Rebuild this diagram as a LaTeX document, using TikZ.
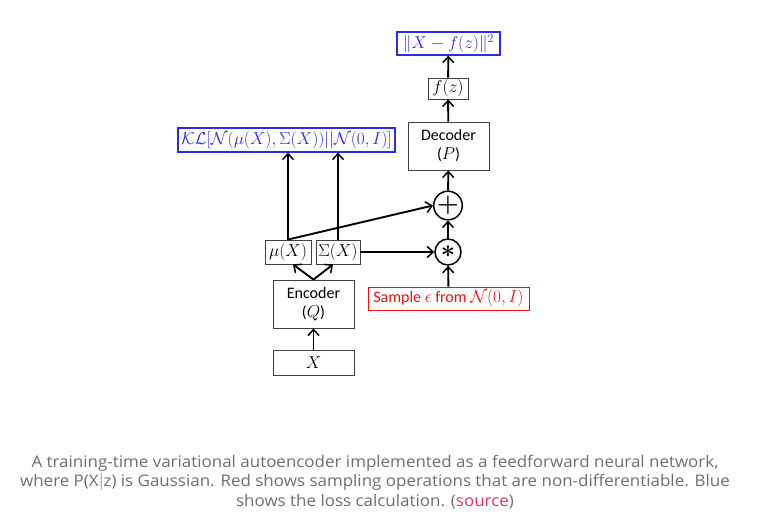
\documentclass[tikz,border=0pt]{standalone}
\usepackage{amsmath,amssymb}
\usepackage{bm}
\usepackage{fontspec}
\setsansfont{Carlito}
\newfontfamily\capfont[FakeStretch=1.06]{Open Sans}
\usetikzlibrary{arrows.meta,positioning}
\definecolor{lossb}{HTML}{2B2BEE}
\definecolor{sampr}{HTML}{F01010}
\definecolor{capg}{HTML}{6E6E6E}
\definecolor{srcr}{HTML}{E8336A}
\begin{document}
\begin{tikzpicture}[x=1pt,y=-1pt,font=\sffamily\fontsize{16}{19}\selectfont,
  >={Straight Barb[length=6pt,width=11pt,line width=1.5pt]},
  box/.style={draw=black!75,line width=0.9pt,inner sep=1pt,align=center},
  mth/.style={font=\fontsize{18.5}{20}\selectfont},
  loss/.style={draw=lossb,line width=1.1pt,inner sep=1pt,text=lossb},
  samp/.style={draw=sampr,line width=0.9pt,inner sep=1pt,text=sampr},
  op/.style={circle,draw=black,line width=1.5pt,minimum size=26pt,inner sep=0pt},
  arr/.style={->,line width=1.9pt}]
  \useasboundingbox (0,0) rectangle (772,522);
  % loss side
  \node[loss,mth,minimum width=103pt,minimum height=23pt] (loss) at (448.5,43.5) {$\|X-f(z)\|^2$};
  \node[box,mth,minimum width=40pt,minimum height=21pt] (fz) at (448,88.5) {$f(z)$};
  \node[box,minimum width=81pt,minimum height=48pt] (dec) at (448.5,146) {Decoder\\($P$)};
  \node[loss,mth,minimum width=217pt,minimum height=24pt] (kl) at (286.5,140) {$\mathcal{KL}[\mathcal{N}(\mu(X),\Sigma(X))||\mathcal{N}(0,I)]$};
  % sampling
  \node[op] (plus) at (448,205.5) {\fontsize{24}{24}\selectfont$\bm{+}$};
  \node[op] (star) at (448,252) {\fontsize{40}{40}\selectfont\raisebox{-1pt}{$\bm{\ast}$}};
  \node[samp,minimum width=161pt,minimum height=23pt] (samp) at (448.5,298.5) {Sample {\fontsize{18.5}{20}\selectfont$\epsilon$} from {\fontsize{18.5}{20}\selectfont$\mathcal{N}(0,I)$}};
  % encoder side
  \node[box,mth,minimum width=46pt,minimum height=24pt] (mu) at (288,252) {$\mu(X)$};
  \node[box,mth,minimum width=44pt,minimum height=24pt] (sig) at (338,252) {$\Sigma(X)$};
  \node[box,minimum width=81pt,minimum height=48pt] (enc) at (313.5,304) {Encoder\\($Q$)};
  \node[box,mth,minimum width=81pt,minimum height=25pt] (xin) at (313.5,362.5) {$X$};
  \draw[arr] (xin) -- (enc);
  \draw[arr] (enc.north) -- ([xshift=5pt]mu.south);
  \draw[arr] (enc.north) -- ([xshift=-5pt]sig.south);
  \draw[arr] (mu.north) -- (mu.north |- kl.south);
  \draw[arr] (sig.north) -- (sig.north |- kl.south);
  \draw[arr] (mu.north) -- (plus.west);
  \draw[arr] (sig.east) -- (star.west);
  \draw[arr] (samp) -- (star);
  \draw[arr] (star) -- (plus);
  \draw[arr] (plus) -- (dec);
  \draw[arr] (dec) -- (fz);
  \draw[arr] (fz) -- (loss);
  % caption
  \node[text=capg,align=center,font=\capfont\fontsize{16}{19.5}\selectfont] (cap) at (375,482)
    {A training-time variational autoencoder implemented as a feedforward neural network,\\
     where P(X$|$z) is Gaussian. Red shows sampling operations that are non-differentiable. Blue\\
     shows the loss calculation. (\textcolor{srcr}{source})};
\end{tikzpicture}
\end{document}
